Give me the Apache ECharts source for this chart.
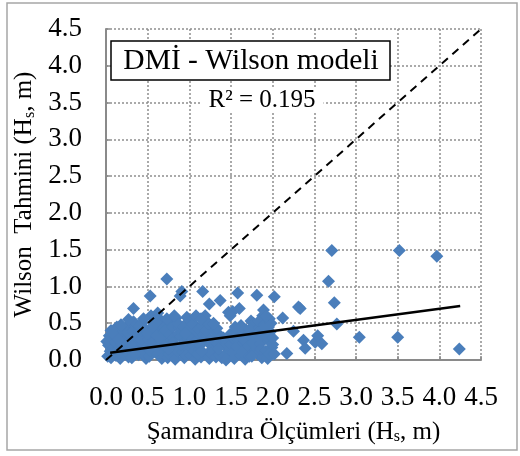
<!DOCTYPE html>
<html>
<head>
<meta charset="utf-8">
<script src="https://cdn.jsdelivr.net/npm/echarts@6/dist/echarts.min.js"></script>
<style>html,body{margin:0;padding:0;background:#fff}#c{width:520px;height:456px}</style>
</head>
<body>
<div id="c"></div>
<script>
// Data: [buoy measurement Hs (m), Wilson prediction Hs (m)]
const scatterPoints = [
[0.02,0.05],[0.05,0.12],[0.03,0.2],[0.08,0.28],[0.06,0.03],[0.09,0.17],[0.04,0.33],[0.07,0.09],[0.01,0.25],[0.1,0.38],
[0.12,0.06],[0.15,0.14],[0.11,0.24],[0.18,0.31],[0.14,0.4],[0.17,0.02],[0.19,0.21],[0.13,0.45],[0.16,0.1],[0.12,0.33],[0.2,0.26],
[0.22,0.09],[0.25,0.18],[0.21,0.35],[0.28,0.27],[0.24,0.44],[0.27,0.04],[0.29,0.48],[0.23,0.13],[0.26,0.22],[0.2,0.4],[0.3,0.12],[0.26,0.37],
[0.31,0.03],[0.34,0.15],[0.38,0.24],[0.32,0.39],[0.36,0.47],[0.39,0.07],[0.35,0.31],[0.33,0.70],[0.37,0.1],[0.3,0.2],[0.4,0.4],[0.33,0.52],
[0.41,0.12],[0.44,0.22],[0.47,0.36],[0.43,0.5],[0.48,0.02],[0.46,0.43],[0.42,0.29],[0.45,0.07],[0.49,0.18],[0.4,0.46],[0.5,0.31],
[0.52,0.05],[0.55,0.17],[0.51,0.28],[0.58,0.41],[0.54,0.6],[0.57,0.52],[0.53,0.87],[0.59,0.11],[0.56,0.24],[0.5,0.36],[0.6,0.47],[0.53,0.13],
[0.62,0.08],[0.65,0.2],[0.61,0.33],[0.68,0.46],[0.64,0.56],[0.67,0.02],[0.69,0.27],[0.63,0.15],[0.7,0.38],[0.6,0.52],[0.66,0.28],
[0.72,0.13],[0.75,0.24],[0.71,0.4],[0.78,0.51],[0.74,0.03],[0.77,0.34],[0.73,1.10],[0.76,0.08],[0.7,0.19],[0.8,0.45],[0.73,0.56],
[0.82,0.06],[0.85,0.18],[0.81,0.29],[0.88,0.44],[0.84,0.57],[0.87,0.36],[0.89,0.87],[0.83,0.01],[0.86,0.12],[0.8,0.23],[0.9,0.31],[0.86,0.5],
[0.92,0.11],[0.95,0.25],[0.91,0.38],[0.98,0.5],[0.94,0.03],[0.97,0.43],[0.91,0.93],[0.99,0.16],[0.96,0.07],[0.9,0.2],[1.0,0.33],[0.93,0.46],
[1.02,0.07],[1.05,0.2],[1.01,0.32],[1.08,0.46],[1.04,0.55],[1.07,0.01],[1.09,0.27],[1.06,0.12],[1.0,0.42],[1.1,0.37],[1.03,0.5],
[1.12,0.14],[1.15,0.26],[1.11,0.41],[1.18,0.52],[1.14,0.04],[1.17,0.35],[1.16,0.93],[1.19,0.6],[1.13,0.2],[1.2,0.28],[1.1,0.08],[1.16,0.47],
[1.22,0.09],[1.25,0.21],[1.21,0.33],[1.28,0.44],[1.24,0.02],[1.24,0.76],[1.29,0.15],[1.26,0.1],[1.2,0.39],[1.3,0.27],[1.23,0.5],
[1.32,0.04],[1.35,0.28],[1.31,0.38],[1.38,0.32],[1.34,0.22],[1.37,0.81],[1.39,0.03],[1.36,0.07],[1.33,0.43],
[1.42,0.06],[1.45,0.24],[1.41,0.3],[1.48,0.13],[1.47,0.65],[1.44,0.0],[1.49,0.35],[1.47,0.04],[1.43,0.19],[1.5,0.22],[1.52,0.66],[1.49,0.6],
[1.52,0.1],[1.55,0.27],[1.58,0.38],[1.54,0.02],[1.58,0.91],[1.57,0.18],[1.56,0.06],[1.53,0.33],[1.6,0.28],[1.6,0.7],
[1.62,0.07],[1.65,0.22],[1.68,0.41],[1.64,0.33],[1.67,0.01],[1.69,0.14],[1.66,0.27],[1.63,0.11],[1.7,0.35],[1.62,0.47],
[1.72,0.05],[1.75,0.3],[1.71,0.18],[1.78,0.47],[1.74,0.53],[1.77,0.1],[1.79,0.38],[1.77,0.5],[1.76,0.23],[1.73,0.42],[1.8,0.13],
[1.82,0.08],[1.85,0.22],[1.81,0.88],[1.88,0.6],[1.84,0.44],[1.87,0.03],[1.89,0.33],[1.83,0.52],[1.86,0.15],[1.83,0.37],[1.9,0.48],[1.86,0.28],[1.89,0.68],
[1.92,0.12],[1.95,0.27],[1.91,0.45],[1.98,0.5],[1.94,0.02],[1.97,0.38],[1.99,0.17],[1.96,0.56],[1.96,0.08],[1.93,0.32],[2.0,0.21],[1.92,0.6],
[2.02,0.86],[2.02,0.08],[2.0,0.3],
[0.06,0.4],[0.18,0.48],[0.27,0.55],[0.45,0.56],[0.62,0.64],[0.82,0.6],[0.97,0.58],[1.08,0.6],[1.14,0.56],[1.29,0.5],
[0.15,0.28],[0.35,0.08],[0.55,0.45],[0.75,0.16],[0.95,0.36],[1.15,0.12],[1.35,0.16],[1.55,0.45],[1.75,0.05],[1.95,0.45],
[2.12,0.57],[2.17,0.09],[2.25,0.39],[2.33,0.70],[2.31,0.72],[2.37,0.27],[2.39,0.16],[2.51,0.24],[2.54,0.33],[2.59,0.22],
[2.67,1.07],[2.71,1.49],[2.74,0.78],[2.77,0.49],[3.04,0.31],[3.50,0.31],[3.52,1.49],[3.97,1.41],[4.24,0.15]
];
const trendX = [0.05, 4.25];
const trendY = [0.10, 0.735];
const oneToOneX = [0, 4.5];
const oneToOneY = [0, 4.5];
const axisMin = 0, axisMax = 4.5, axisStep = 0.5;
const titleText = 'DMİ - Wilson modeli';
const r2Text = 'R² = 0.195';

const serif = '"Liberation Serif","Times New Roman",serif';
const chart = echarts.init(document.getElementById('c'), null, {renderer: 'canvas'});
const axisCommon = {
  type: 'value', min: axisMin, max: axisMax, interval: axisStep,
  axisLine: {show: true, lineStyle: {color: '#8a8a8a', width: 2}},
  axisTick: {show: true, inside: true, length: 4, lineStyle: {color: '#8a8a8a', width: 1.5}},
  splitLine: {show: true, lineStyle: {type: [2, 2], color: '#8f8f8f', width: 1.5}},
  axisLabel: {color: '#000', fontFamily: serif, fontSize: 27, formatter: v => v.toFixed(1)},
  nameLocation: 'middle',
  nameTextStyle: {color: '#000', fontFamily: serif, fontSize: 25}
};
chart.setOption({
  animation: false,
  grid: {left: 106, right: 39, top: 29, bottom: 96},
  xAxis: Object.assign({}, axisCommon, {
    axisLabel: Object.assign({}, axisCommon.axisLabel, {margin: 24}),
    name: '{a|Şamandıra Ölçümleri (H}{s|s}{a|, m)}',
    nameGap: 59,
    nameTextStyle: {rich: {
      a: {fontFamily: serif, fontSize: 25, color: '#000'},
      s: {fontFamily: serif, fontSize: 16, color: '#000', verticalAlign: 'bottom', padding: [10, 0, 0, 0]}
    }}
  }),
  yAxis: Object.assign({}, axisCommon, {
    axisLabel: Object.assign({}, axisCommon.axisLabel, {margin: 24}),
    name: '{a|Wilson  Tahmini (H}{s|s}{a|, m)}',
    nameGap: 64,
    nameTextStyle: {rich: {
      a: {fontFamily: serif, fontSize: 25, color: '#000'},
      s: {fontFamily: serif, fontSize: 16, color: '#000', verticalAlign: 'bottom', padding: [10, 0, 0, 0]}
    }}
  }),
  series: [
    {
      type: 'scatter', symbol: 'diamond', symbolSize: [13, 13],
      data: scatterPoints,
      itemStyle: {color: '#4a7ebb', opacity: 1},
      emphasis: {disabled: true}, z: 2
    },
    {
      type: 'line', data: oneToOneX.map((x, i) => [x, oneToOneY[i]]),
      showSymbol: false, symbol: 'none',
      lineStyle: {color: '#000', width: 2, type: [8, 6]}, z: 3, silent: true
    },
    {
      type: 'line', data: trendX.map((x, i) => [x, trendY[i]]),
      showSymbol: false, symbol: 'none',
      lineStyle: {color: '#000', width: 2.5}, z: 4, silent: true
    }
  ],
  graphic: [
    {type: 'rect', shape: {x: 7, y: 3, width: 510, height: 447}, style: {fill: 'none', stroke: '#a6a6a6', lineWidth: 1.5}, z: -10, silent: true},
    {type: 'rect', shape: {x: 111, y: 41, width: 279, height: 39}, style: {fill: '#fff', stroke: '#000', lineWidth: 1.5}, z: 100},
    {type: 'text', x: 251, y: 61, style: {text: titleText, fontFamily: serif, fontSize: 29.5, fill: '#000', textAlign: 'center', textVerticalAlign: 'middle'}, z: 101},
    {type: 'text', x: 262, y: 100, style: {text: r2Text, fontFamily: serif, fontSize: 25, fill: '#000', textAlign: 'center', textVerticalAlign: 'middle', backgroundColor: '#fff', padding: [0, 8]}, z: 101}
  ]
});
</script>
</body>
</html>
